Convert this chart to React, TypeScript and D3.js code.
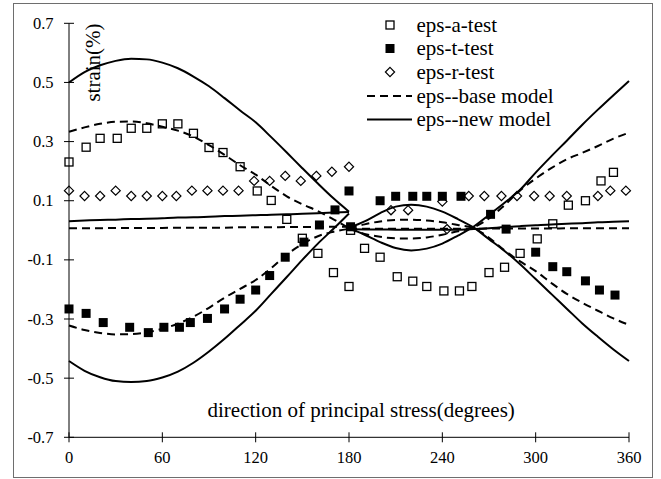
import React from "react";
import * as d3 from "d3";

// Axis ticks
const xTicks = [0, 60, 120, 180, 240, 300, 360];
const yTicks = [-0.7, -0.5, -0.3, -0.1, 0.1, 0.3, 0.5, 0.7];

// Measured strains: axial (a), tangential (t), radial (r)
const angleA = [0, 11, 20, 31, 40, 50, 60, 70, 80, 90, 99, 110, 121, 130, 140, 150, 160, 170, 180, 181, 190, 200, 211, 221, 230, 241, 251, 259, 270, 280, 290, 301, 311, 321, 332, 342, 350];
const epsA = [0.231, 0.281, 0.311, 0.311, 0.345, 0.345, 0.36, 0.36, 0.328, 0.28, 0.263, 0.215, 0.133, 0.101, 0.037, -0.027, -0.078, -0.143, -0.19, 0.0, -0.061, -0.091, -0.157, -0.172, -0.19, -0.205, -0.205, -0.19, -0.143, -0.125, -0.078, -0.029, 0.022, 0.085, 0.1, 0.167, 0.196];

const angleT = [0, 11, 22, 39, 51, 61, 71, 78, 89, 100, 110, 120, 129, 139, 151, 161, 171, 180, 181, 200, 210, 221, 230, 240, 252, 271, 281, 300, 311, 320, 332, 341, 351];
const epsT = [-0.266, -0.281, -0.312, -0.328, -0.346, -0.328, -0.328, -0.312, -0.298, -0.266, -0.233, -0.202, -0.153, -0.091, -0.04, 0.018, 0.069, 0.133, 0.012, 0.1, 0.115, 0.115, 0.115, 0.115, 0.115, 0.054, 0.004, -0.074, -0.123, -0.14, -0.171, -0.202, -0.219];

const angleR = [0, 10, 20, 30, 40, 50, 60, 69, 79, 89, 99, 109, 119, 129, 139, 149, 159, 169, 180, 207, 218, 240, 243, 257, 267, 278, 288, 299, 309, 320, 340, 348, 358];
const epsR = [0.134, 0.116, 0.116, 0.134, 0.116, 0.116, 0.116, 0.116, 0.134, 0.134, 0.134, 0.134, 0.167, 0.167, 0.184, 0.167, 0.184, 0.198, 0.215, 0.068, 0.068, 0.097, 0.004, 0.116, 0.116, 0.116, 0.116, 0.116, 0.116, 0.116, 0.116, 0.134, 0.134];

// Model predictions, first half-cycle (0-180) and second half-cycle (180-360)
const modelAngles1 = [0, 10, 20, 30, 40, 50, 60, 70, 80, 90, 100, 110, 120, 130, 140, 150, 160, 170, 180];
const modelAngles2 = [180, 190, 200, 210, 220, 230, 240, 250, 260, 270, 280, 290, 300, 310, 320, 330, 340, 350, 360];

const newA1 = [0.5, 0.535, 0.558, 0.573, 0.58, 0.578, 0.567, 0.548, 0.52, 0.487, 0.447, 0.405, 0.365, 0.315, 0.263, 0.21, 0.158, 0.108, 0.063];
const newT1 = [-0.442, -0.475, -0.497, -0.51, -0.513, -0.51, -0.498, -0.478, -0.448, -0.41, -0.367, -0.32, -0.272, -0.215, -0.158, -0.1, -0.045, 0.005, 0.057];
const newR1 = [0.031, 0.033, 0.035, 0.036, 0.038, 0.039, 0.041, 0.043, 0.044, 0.046, 0.048, 0.049, 0.051, 0.053, 0.054, 0.056, 0.058, 0.06, 0.062];
const newA2 = [0.008, -0.015, -0.04, -0.06, -0.068, -0.062, -0.045, -0.018, 0.012, 0.052, 0.093, 0.137, 0.195, 0.25, 0.303, 0.357, 0.408, 0.457, 0.505];
const newT2 = [0.008, 0.03, 0.058, 0.08, 0.086, 0.08, 0.063, 0.038, 0.01, -0.03, -0.07, -0.115, -0.165, -0.215, -0.265, -0.315, -0.36, -0.403, -0.442];
const newR2 = [0.004, 0.003, 0.003, 0.002, 0.002, 0.002, 0.002, 0.002, 0.004, 0.007, 0.011, 0.014, 0.017, 0.02, 0.022, 0.024, 0.027, 0.029, 0.031];

const baseA1 = [0.333, 0.348, 0.36, 0.367, 0.368, 0.362, 0.35, 0.337, 0.317, 0.288, 0.255, 0.22, 0.188, 0.15, 0.115, 0.088, 0.065, 0.037, 0.007];
const baseT1 = [-0.322, -0.337, -0.347, -0.352, -0.351, -0.345, -0.333, -0.316, -0.292, -0.262, -0.228, -0.198, -0.168, -0.128, -0.082, -0.047, -0.02, -0.005, 0.005];
const baseR1 = [0.007, 0.007, 0.007, 0.008, 0.008, 0.008, 0.008, 0.009, 0.009, 0.009, 0.009, 0.01, 0.01, 0.01, 0.011, 0.011, 0.011, 0.012, 0.012];
const baseA2 = [0.005, -0.012, -0.022, -0.027, -0.028, -0.024, -0.015, -0.003, 0.01, 0.04, 0.085, 0.135, 0.175, 0.21, 0.24, 0.262, 0.285, 0.31, 0.33];
const baseT2 = [0.005, 0.02, 0.03, 0.035, 0.036, 0.033, 0.027, 0.018, 0.008, -0.025, -0.068, -0.105, -0.138, -0.178, -0.215, -0.245, -0.272, -0.298, -0.32];
const baseR2 = [0.006, 0.005, 0.005, 0.005, 0.005, 0.005, 0.005, 0.005, 0.005, 0.006, 0.006, 0.006, 0.006, 0.006, 0.007, 0.007, 0.007, 0.007, 0.007];

const legendLabels = ["eps-a-test", "eps-t-test", "eps-r-test", "eps--base model", "eps--new model"];

const W = 661;
const H = 479;
const FONT = "'Liberation Serif', 'Times New Roman', serif";

const x = d3.scaleLinear().domain([0, 360]).range([69, 629]);
const y = d3.scaleLinear().domain([-0.7, 0.7]).range([437.3, 23.3]);

const line = d3
  .line<[number, number]>()
  .x((d) => x(d[0]))
  .y((d) => y(d[1]))
  .curve(d3.curveMonotoneX);

const zip = (a: number[], b: number[]) => a.map((v, i) => [v, b[i]] as [number, number]);

function OpenSquare({ cx, cy, s = 8 }: { cx: number; cy: number; s?: number }) {
  return <rect x={cx - s / 2} y={cy - s / 2} width={s} height={s} fill="none" stroke="#000" strokeWidth={1.3} />;
}
function FilledSquare({ cx, cy, s = 9 }: { cx: number; cy: number; s?: number }) {
  return <rect x={cx - s / 2} y={cy - s / 2} width={s} height={s} fill="#000" />;
}
function Diamond({ cx, cy, r = 4.6 }: { cx: number; cy: number; r?: number }) {
  return (
    <polygon
      points={`${cx},${cy - r} ${cx + r},${cy} ${cx},${cy + r} ${cx - r},${cy}`}
      fill="none"
      stroke="#000"
      strokeWidth={1.2}
    />
  );
}

export default function App() {
  const baseCurves = [
    zip(modelAngles1, baseA1),
    zip(modelAngles1, baseT1),
    zip(modelAngles1, baseR1),
    zip(modelAngles2, baseA2),
    zip(modelAngles2, baseT2),
    zip(modelAngles2, baseR2),
  ];
  const newCurves = [
    zip(modelAngles1, newA1),
    zip(modelAngles1, newT1),
    zip(modelAngles1, newR1),
    zip(modelAngles2, newA2),
    zip(modelAngles2, newT2),
    zip(modelAngles2, newR2),
  ];

  const legendRowY = [25, 48.5, 72, 96, 119.5];

  return (
    <svg
      width={W}
      height={H}
      viewBox={`0 0 ${W} ${H}`}
      style={{ position: "absolute", left: 0, top: 0, display: "block", background: "#fff" }}
      fontFamily={FONT}
    >
      <rect x={0} y={0} width={W} height={H} fill="#fff" />
      {/* chart area frame */}
      <rect x={13.5} y={3.5} width={639} height={474} fill="none" stroke="#6e6e6e" strokeWidth={1} />

      {/* y axis */}
      <line x1={x(0)} x2={x(0)} y1={y(0.7)} y2={y(-0.7)} stroke="#000" strokeWidth={1} />
      {yTicks.map((t) => (
        <g key={`yt${t}`}>
          <line x1={x(0) - 5} x2={x(0) + 5} y1={y(t)} y2={y(t)} stroke="#000" strokeWidth={1} />
          <text x={53.5} y={y(t) + 5.5} textAnchor="end" fontSize={16.5} fill="#000">
            {t.toFixed(1)}
          </text>
        </g>
      ))}

      {/* x axis */}
      <line x1={x(0)} x2={x(360)} y1={y(-0.7)} y2={y(-0.7)} stroke="#000" strokeWidth={1} />
      {xTicks.map((t) => (
        <g key={`xt${t}`}>
          <line x1={x(t)} x2={x(t)} y1={y(-0.7) - 5} y2={y(-0.7) + 5} stroke="#000" strokeWidth={1} />
          <text x={x(t)} y={463} textAnchor="middle" fontSize={16.5} fill="#000">
            {t}
          </text>
        </g>
      ))}

      {/* axis titles */}
      <text x={207.5} y={417} fontSize={21} fill="#000">
        direction of principal stress(degrees)
      </text>
      <text transform="translate(100,62.5) rotate(-90)" textAnchor="middle" fontSize={21} fill="#000">
        strain(%)
      </text>

      {/* measured points */}
      {angleA.map((a, i) => (
        <OpenSquare key={`a${i}`} cx={x(a)} cy={y(epsA[i])} />
      ))}
      {angleT.map((a, i) => (
        <FilledSquare key={`t${i}`} cx={x(a)} cy={y(epsT[i])} />
      ))}
      {angleR.map((a, i) => (
        <Diamond key={`r${i}`} cx={x(a)} cy={y(epsR[i])} />
      ))}

      {/* model curves */}
      {baseCurves.map((c, i) => (
        <path key={`b${i}`} d={line(c) || ""} fill="none" stroke="#000" strokeWidth={2} strokeDasharray="8,5" />
      ))}
      {newCurves.map((c, i) => (
        <path key={`n${i}`} d={line(c) || ""} fill="none" stroke="#000" strokeWidth={2} />
      ))}

      {/* legend */}
      <g>
        <OpenSquare cx={390} cy={legendRowY[0]} />
        <FilledSquare cx={390} cy={legendRowY[1]} />
        <Diamond cx={390} cy={legendRowY[2]} />
        <line x1={367} x2={412} y1={legendRowY[3]} y2={legendRowY[3]} stroke="#000" strokeWidth={2} strokeDasharray="8,5" />
        <line x1={367} x2={412} y1={legendRowY[4]} y2={legendRowY[4]} stroke="#000" strokeWidth={2} />
        {legendLabels.map((l, i) => (
          <text key={l} x={416.5} y={legendRowY[i] + 6.5} fontSize={21} fill="#000">
            {l}
          </text>
        ))}
      </g>
    </svg>
  );
}
